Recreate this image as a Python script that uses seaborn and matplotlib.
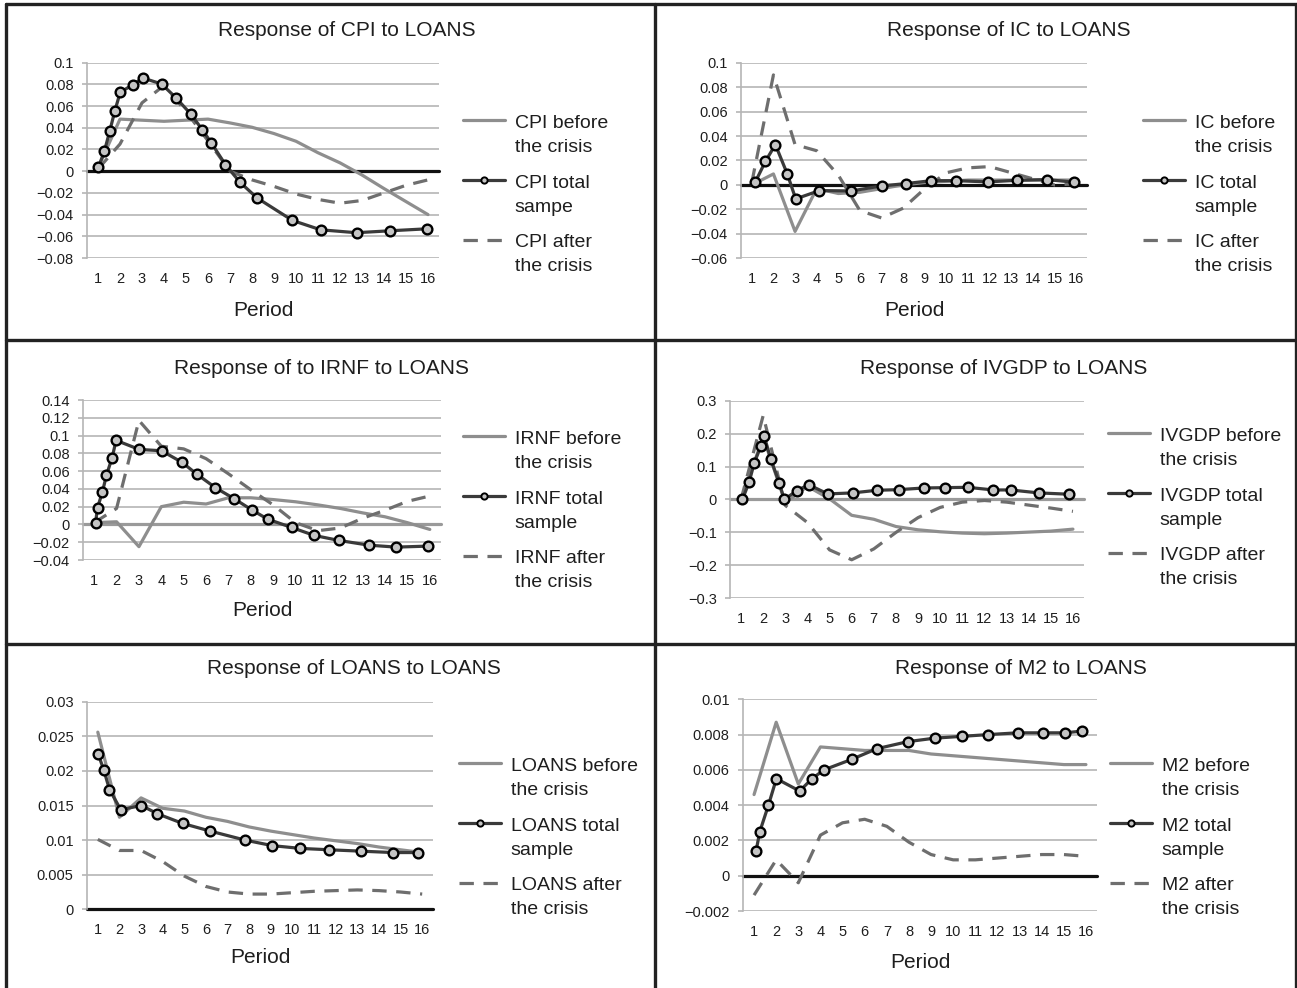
import numpy as np
import seaborn as sns
import matplotlib.pyplot as plt
from matplotlib.lines import Line2D
from matplotlib.legend_handler import HandlerLine2D
from matplotlib.ticker import FuncFormatter

# impulse responses, periods 1..16
periods = list(range(1, 17))

# CPI
cpi_before = [0.003, 0.048, 0.047, 0.046, 0.047, 0.048, 0.0445, 0.0405, 0.0347, 0.0276,
              0.017, 0.0077, -0.0035, -0.016, -0.028, -0.040]
cpi_after = [0.002, 0.025, 0.063, 0.079, 0.055, 0.028, 0.0, -0.008, -0.014, -0.021,
             -0.026, -0.0295, -0.027, -0.020, -0.013, -0.008]
cpi_total_x = [1.02, 1.29, 1.54, 1.76, 2.01, 2.59, 3.04, 3.89, 4.55, 5.21, 5.74, 6.15,
               6.79, 7.45, 8.22, 9.84, 11.12, 12.75, 14.29, 15.95]
cpi_total_y = [0.0037, 0.0184, 0.0374, 0.0552, 0.0727, 0.0798, 0.0859, 0.0804, 0.0675,
               0.0528, 0.0383, 0.0261, 0.0061, -0.0101, -0.0245, -0.0454, -0.054,
               -0.0567, -0.0549, -0.0531]

# IC
ic_before = [0.0, 0.009, -0.038, -0.003, -0.007, -0.006, -0.003, 0.0, 0.002, 0.003,
             0.004, 0.004, 0.004, 0.004, 0.004, 0.004]
ic_after = [0.002, 0.09, 0.033, 0.028, 0.008, -0.021, -0.027, -0.019, -0.003, 0.01,
            0.014, 0.015, 0.01, 0.005, 0.0, 0.001]
ic_total_x = [1.17, 1.63, 2.09, 2.64, 3.03, 4.13, 5.60, 7.01, 8.12, 9.30, 10.45, 11.90,
              13.28, 14.65, 15.92]
ic_total_y = [0.0027, 0.0193, 0.033, 0.009, -0.0114, -0.0046, -0.0049, -0.0008, 0.0011,
              0.0035, 0.0035, 0.0025, 0.0038, 0.0044, 0.0022]

# IRNF
irnf_before = [0.002, 0.003, -0.025, 0.02, 0.025, 0.023, 0.03, 0.03, 0.028, 0.0255,
               0.022, 0.018, 0.013, 0.0086, 0.002, -0.0056]
irnf_after = [0.002, 0.018, 0.117, 0.088, 0.085, 0.074, 0.057, 0.039, 0.022, 0.002,
              -0.007, -0.004, 0.007, 0.016, 0.026, 0.032]
irnf_total_x = [1.06, 1.15, 1.37, 1.55, 1.80, 1.98, 3.01, 4.01, 4.93, 5.58, 6.42, 7.26,
                8.06, 8.75, 9.82, 10.84, 11.94, 13.27, 14.49, 15.9]
irnf_total_y = [0.0019, 0.0188, 0.0368, 0.0555, 0.075, 0.0946, 0.0844, 0.0829, 0.0698,
                0.0567, 0.0413, 0.0289, 0.0161, 0.006, -0.0034, -0.0124, -0.018,
                -0.0233, -0.0255, -0.0244]

# IVGDP
ivgdp_before = [0.0, 0.19, -0.01, 0.04, 0.002, -0.048, -0.06, -0.082, -0.092, -0.098,
                -0.102, -0.104, -0.102, -0.099, -0.096, -0.09]
ivgdp_after = [0.0, 0.255, -0.018, -0.07, -0.153, -0.183, -0.15, -0.1, -0.055, -0.024,
               -0.008, -0.003, -0.008, -0.017, -0.026, -0.036]
ivgdp_total_x = [1.06, 1.36, 1.60, 1.89, 2.04, 2.34, 2.73, 2.95, 3.53, 4.05, 4.92, 6.04,
                 7.14, 8.14, 9.27, 10.22, 11.24, 12.40, 13.18, 14.46, 15.83]
ivgdp_total_y = [0.0, 0.052, 0.112, 0.161, 0.194, 0.123, 0.050, 0.0, 0.027, 0.045, 0.017,
                 0.020, 0.028, 0.030, 0.035, 0.036, 0.037, 0.029, 0.029, 0.020, 0.016]

# LOANS
loans_before = [0.0256, 0.0133, 0.0161, 0.0146, 0.0142, 0.0133, 0.0127, 0.0119, 0.0113,
                0.0108, 0.0103, 0.0099, 0.0095, 0.009, 0.0086, 0.0082]
loans_after = [0.0101, 0.0085, 0.0085, 0.0069, 0.0048, 0.0033, 0.0025, 0.0022, 0.0022,
               0.0024, 0.0026, 0.0027, 0.0028, 0.0027, 0.0025, 0.0022]
loans_total_x = [1.02, 1.28, 1.54, 2.06, 3.02, 3.76, 4.93, 6.20, 7.81, 9.07, 10.37,
                 11.71, 13.19, 14.65, 15.82]
loans_total_y = [0.0224, 0.0201, 0.0173, 0.0144, 0.0150, 0.0138, 0.0124, 0.0113, 0.0100,
                 0.0092, 0.0088, 0.0086, 0.0084, 0.0082, 0.0082]

# M2
m2_before = [0.0046, 0.0087, 0.0052, 0.0073, 0.0072, 0.0071, 0.0071, 0.0071, 0.0069,
             0.0068, 0.0067, 0.0066, 0.0065, 0.0064, 0.0063, 0.0063]
m2_after = [-0.0011, 0.0009, -0.0004, 0.0023, 0.003, 0.0032, 0.0028, 0.0019, 0.0012,
            0.0009, 0.0009, 0.001, 0.0011, 0.0012, 0.0012, 0.0011]
m2_total_x = [1.09, 1.26, 1.65, 2.01, 3.06, 3.62, 4.16, 5.42, 6.55, 7.95, 9.18, 10.41,
              11.59, 12.91, 14.07, 15.05, 15.84]
m2_total_y = [0.0014, 0.0025, 0.0040, 0.0055, 0.0048, 0.0055, 0.0060, 0.0066, 0.0072,
              0.0076, 0.0078, 0.0079, 0.0080, 0.0081, 0.0081, 0.0081, 0.0082]

sns.set_style("white")
plt.rcParams['font.family'] = ['Liberation Sans', 'DejaVu Sans']

W, H = 1297, 988
fig = plt.figure(figsize=(W / 100, H / 100), dpi=100)

GRID = '#b5b5b5'
BEFORE = '#8e8e8e'
TOTAL = '#3a3a3a'
AFTER = '#6e6e6e'
TXT = '#1e1e1e'
MFACE = '#c4c4c4'
DASH = (0, (4.5, 3))

# name, title, data, y range/step, axes box in px (left, right, top, bottom),
# title centre, xlabel y, legend anchor, zero line colour
panels = [
    dict(name='CPI', title='Response of CPI to LOANS', before=cpi_before, after=cpi_after,
         tx=cpi_total_x, ty=cpi_total_y, ylim=(-0.08, 0.1), n=9, box=(87, 439, 62.7, 258),
         txy=(347, 31), xl=310, leg=(463, 115), total='CPI total\nsampe', zero='#111111'),
    dict(name='IC', title='Response of IC to LOANS', before=ic_before, after=ic_after,
         tx=ic_total_x, ty=ic_total_y, ylim=(-0.06, 0.1), n=8, box=(741, 1087, 62.7, 258.3),
         txy=(1009, 31), xl=310, leg=(1143, 115), total='IC total\nsample', zero='#111111'),
    dict(name='IRNF', title='Response of to IRNF to LOANS', before=irnf_before, after=irnf_after,
         tx=irnf_total_x, ty=irnf_total_y, ylim=(-0.04, 0.14), n=9, box=(83, 441, 400, 560),
         txy=(321, 368), xl=610, leg=(463, 431), total='IRNF total\nsample', zero='#9a9a9a'),
    dict(name='IVGDP', title='Response of IVGDP to LOANS', before=ivgdp_before, after=ivgdp_after,
         tx=ivgdp_total_x, ty=ivgdp_total_y, ylim=(-0.3, 0.3), n=6, box=(730, 1084, 400.7, 598.3),
         txy=(1004, 369), xl=None, leg=(1108, 428), total='IVGDP total\nsample', zero='#9a9a9a'),
    dict(name='LOANS', title='Response of LOANS to LOANS', before=loans_before, after=loans_after,
         tx=loans_total_x, ty=loans_total_y, ylim=(0, 0.03), n=6, box=(87, 433, 701.7, 909.3),
         txy=(354, 668), xl=957, leg=(459, 758), total='LOANS total\nsample', zero='#111111'),
    dict(name='M2', title='Response of M2 to LOANS', before=m2_before, after=m2_after,
         tx=m2_total_x, ty=m2_total_y, ylim=(-0.002, 0.01), n=6, box=(743, 1097, 699.3, 911),
         txy=(1021, 668), xl=962, leg=(1110, 758), total='M2 total\nsample', zero='#111111'),
]


def tick_fmt(v, pos=None):
    s = f"{v:.4f}".rstrip('0').rstrip('.')
    if s in ('0', '-0'):
        return '0'
    return s.replace('-', '\u2212')


class FirstLineHandler(HandlerLine2D):
    # excel puts the legend key next to the first line of a wrapped label
    def create_artists(self, legend, orig_handle, xdescent, ydescent, width, height,
                       fontsize, trans):
        artists = super().create_artists(legend, orig_handle, xdescent, ydescent,
                                         width, height, fontsize, trans)
        for a in artists:
            a.set_ydata(np.asarray(a.get_ydata()) + 10.8)
        return artists


for p in panels:
    left, right, top, bottom = p['box']
    ax = fig.add_axes([left / W, 1 - bottom / H, (right - left) / W, (bottom - top) / H])

    sns.lineplot(x=periods, y=p['before'], ax=ax, color=BEFORE, linewidth=2.3, zorder=3)
    sns.lineplot(x=periods, y=p['after'], ax=ax, color=AFTER, linewidth=2.3,
                 linestyle=DASH, zorder=4)
    sns.lineplot(x=p['tx'], y=p['ty'], ax=ax, color=TOTAL, linewidth=2.3, marker='o',
                 markersize=7, markeredgecolor='black', markerfacecolor=MFACE,
                 markeredgewidth=1.7, zorder=5)

    ax.axhline(0, color=p['zero'], lw=2.3, zorder=2, clip_on=False)

    ymin, ymax = p['ylim']
    ax.set_ylim(ymin, ymax)
    ax.set_yticks(np.linspace(ymin, ymax, p['n'] + 1))
    ax.yaxis.set_major_formatter(FuncFormatter(tick_fmt))
    ax.set_xlim(0.5, 16.5)
    ax.set_xticks(periods)

    ax.yaxis.grid(True, color=GRID, lw=1.2, zorder=0)
    ax.xaxis.grid(False)
    for side in ['top', 'right', 'bottom']:
        ax.spines[side].set_visible(False)
    ax.spines['left'].set_color(GRID)
    ax.spines['left'].set_linewidth(1.2)
    ax.tick_params(axis='y', left=True, length=3.6, width=1.2, color=GRID, pad=6,
                   labelsize=10.5, labelcolor=TXT)
    ax.tick_params(axis='x', bottom=False, length=0, pad=10, labelsize=10.5, labelcolor=TXT)
    ax.set_xlabel('')
    ax.set_ylabel('')

    fig.text(p['txy'][0] / W, 1 - p['txy'][1] / H, p['title'], ha='center', va='center',
             fontsize=15, color=TXT)
    if p['xl'] is not None:
        fig.text((left + right) / 2 / W, 1 - p['xl'] / H, 'Period', ha='center',
                 va='center', fontsize=15, color=TXT)

    handles = [
        Line2D([], [], color=BEFORE, lw=2.3),
        Line2D([], [], color=TOTAL, lw=2.3, marker='o', markersize=4.5,
               markeredgecolor='black', markerfacecolor=MFACE, markeredgewidth=1.4),
        Line2D([], [], color=AFTER, lw=2.3, linestyle=DASH),
    ]
    labels = [p['name'] + ' before\nthe crisis', p['total'], p['name'] + ' after\nthe crisis']
    leg = ax.legend(handles, labels, loc='upper left',
                    bbox_to_anchor=(p['leg'][0] / W, 1 - p['leg'][1] / H),
                    bbox_transform=fig.transFigure, frameon=False, borderpad=0,
                    borderaxespad=0, handlelength=2.15, handletextpad=0.5,
                    labelspacing=0.95, fontsize=14,
                    handler_map={Line2D: FirstLineHandler()})
    for t in leg.get_texts():
        t.set_linespacing(1.55)
        t.set_color(TXT)

# panel frame lines
frame = [((6, 4), (1296, 4)), ((6, 4), (6, 988)), ((1296, 4), (1296, 988)),
         ((655, 4), (655, 988)), ((6, 340), (1296, 340)), ((6, 644), (1296, 644))]
for (x1, y1), (x2, y2) in frame:
    fig.add_artist(Line2D([x1 / W, x2 / W], [1 - y1 / H, 1 - y2 / H],
                          transform=fig.transFigure, color='#222222', lw=2.4))

fig.savefig('out.png', dpi=100)
